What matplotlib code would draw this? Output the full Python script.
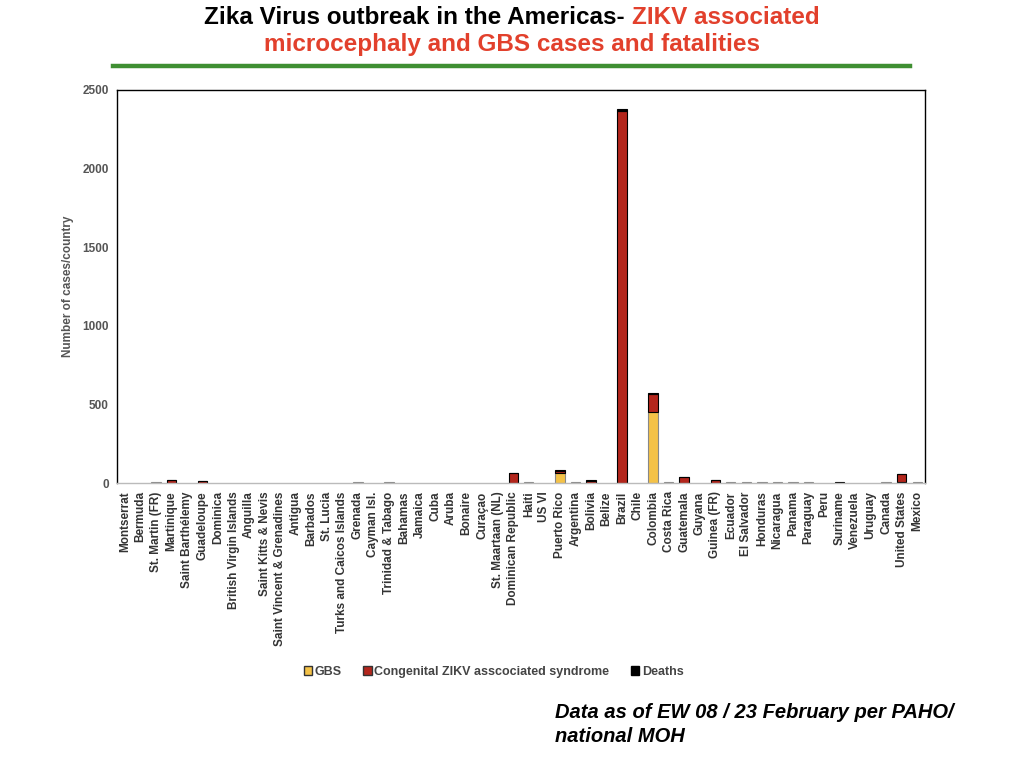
import matplotlib
matplotlib.use('Agg')
import numpy as np
from matplotlib import pyplot as plt
from matplotlib.patches import Patch

countries = ['Montserrat', 'Bermuda', 'St. Martin (FR)', 'Martinique', 'Saint Barthélemy',
             'Guadeloupe', 'Dominica', 'British Virgin Islands', 'Anguilla', 'Saint Kitts & Nevis',
             'Saint Vincent & Grenadines', 'Antigua', 'Barbados', 'St. Lucia',
             'Turks and Caicos Islands', 'Grenada', 'Cayman Isl.', 'Trinidad & Tabago', 'Bahamas',
             'Jamaica', 'Cuba', 'Aruba', 'Bonaire', 'Curaçao', 'St. Maartaan (NL)',
             'Dominican Republic', 'Haiti', 'US VI', 'Puerto Rico', 'Argentina', 'Bolivia',
             'Belize', 'Brazil', 'Chile', 'Colombia', 'Costa Rica', 'Guatemala', 'Guyana',
             'Guinea (FR)', 'Ecuador', 'El Salvador', 'Honduras', 'Nicaragua', 'Panama',
             'Paraguay', 'Peru', 'Suriname', 'Venezuela', 'Uruguay', 'Canada', 'United States',
             'Mexico']

gbs = [0, 0, 5, 0, 0, 0, 0, 0, 0, 0,
       0, 0, 0, 0, 0, 5, 0, 5, 0, 0,
       0, 0, 0, 0, 0, 0, 5, 0, 66, 5,
       0, 0, 0, 0, 450, 5, 0, 0, 0, 5,
       5, 5, 5, 5, 5, 0, 0, 0, 0, 5,
       8, 5]
congenital = [0, 0, 0, 16, 0, 12, 0, 0, 0, 0,
              0, 0, 0, 0, 0, 0, 0, 0, 0, 0,
              0, 0, 0, 0, 0, 62, 0, 0, 10, 0,
              14, 0, 2365, 0, 117, 0, 38, 0, 18, 0,
              0, 0, 0, 0, 0, 0, 0, 0, 0, 0,
              50, 0]
deaths = [0, 0, 0, 2, 0, 2, 0, 0, 0, 0,
          0, 0, 0, 0, 0, 0, 0, 0, 0, 0,
          0, 0, 0, 0, 0, 1, 0, 0, 5, 0,
          2, 0, 16, 0, 3, 0, 1, 0, 1, 0,
          0, 0, 0, 0, 0, 0, 4, 0, 0, 0,
          1, 0]

yellow = '#f4c247'
red = '#b3261c'
gray = '#555555'

fig = plt.figure(figsize=(10.24, 7.68), dpi=100)
ax = fig.add_axes([117 / 1024, 1 - 483 / 768, 808 / 1024, 393 / 768])

x = np.arange(len(countries))
gbs = np.array(gbs)
congenital = np.array(congenital)
deaths = np.array(deaths)


def stack(values, bottom, color, edge):
    # skip zero segments so no outline is left on the baseline
    keep = values > 0
    ax.bar(x[keep], values[keep], width=0.6, bottom=bottom[keep], color=color,
           edgecolor=edge, linewidth=0.8)


stack(gbs, np.zeros_like(gbs), yellow, '#888888')
stack(congenital, gbs, red, 'black')
stack(deaths, gbs + congenital, 'black', 'black')

ax.set_xlim(-0.5, len(countries) - 0.5)
ax.set_ylim(0, 2500)
ax.set_yticks(range(0, 2501, 500))
ax.set_xticks(x)
ax.set_xticklabels(countries, rotation=90, fontsize=8.5, fontweight='bold', color='#333333',
                   family='Liberation Sans')
ax.tick_params(length=0, pad=6)
for lab in ax.get_yticklabels():
    lab.set_fontsize(8.5)
    lab.set_fontweight('bold')
    lab.set_color(gray)
    lab.set_family('Liberation Sans')
ax.set_ylabel('Number of cases/country', fontsize=8.5, fontweight='bold', color=gray,
              family='Liberation Sans', labelpad=6)
for sp in ax.spines.values():
    sp.set_linewidth(1.0)
ax.spines['bottom'].set_color('#bbbbbb')

handles = [Patch(facecolor=yellow, edgecolor='#333333', label='GBS'),
           Patch(facecolor=red, edgecolor='#333333', label='Congenital ZIKV asscociated syndrome'),
           Patch(facecolor='black', edgecolor='black', label='Deaths')]
leg = fig.legend(handles=handles, loc='center', bbox_to_anchor=(0.482, 1 - 672 / 768), ncol=3,
                 frameon=False, handlelength=0.7, handleheight=0.7, handletextpad=0.2,
                 columnspacing=1.7, prop={'family': 'Liberation Sans', 'weight': 'bold', 'size': 9})
for t in leg.get_texts():
    t.set_color('#444444')

title_font = ['Liberation Sans Narrow', 'Liberation Sans']
t1 = fig.text(0.5, 1 - 17 / 768, 'Zika Virus outbreak in the Americas- ', ha='right', va='center',
              fontsize=17.5, fontweight='bold', family=title_font, color='black')
t2 = fig.text(0.5, 1 - 17 / 768, 'ZIKV associated', ha='left', va='center',
              fontsize=17.5, fontweight='bold', family=title_font, color='#e2402c')
fig.canvas.draw()
w1 = t1.get_window_extent().width / 1024
w2 = t2.get_window_extent().width / 1024
shift = (w2 - w1) / 2
t1.set_x(0.5 - shift)
t2.set_x(0.5 - shift)
fig.text(0.5, 1 - 45 / 768, 'microcephaly and GBS cases and fatalities', ha='center', va='center',
         fontsize=17.5, fontweight='bold', family=title_font, color='#e2402c')
fig.add_artist(plt.Line2D([113 / 1024, 910 / 1024], [1 - 66 / 768, 1 - 66 / 768],
                          color='#3f8f32', linewidth=3.2))

fig.text(555 / 1024, 1 - 712 / 768, 'Data as of EW 08 / 23 February per PAHO/', ha='left',
         va='center', fontsize=14.5, fontweight='bold', fontstyle='italic',
         family='Liberation Sans', color='black')
fig.text(555 / 1024, 1 - 737 / 768, 'national MOH', ha='left', va='center', fontsize=14.5,
         fontweight='bold', fontstyle='italic', family='Liberation Sans', color='black')

plt.savefig('out.png', dpi=100)
